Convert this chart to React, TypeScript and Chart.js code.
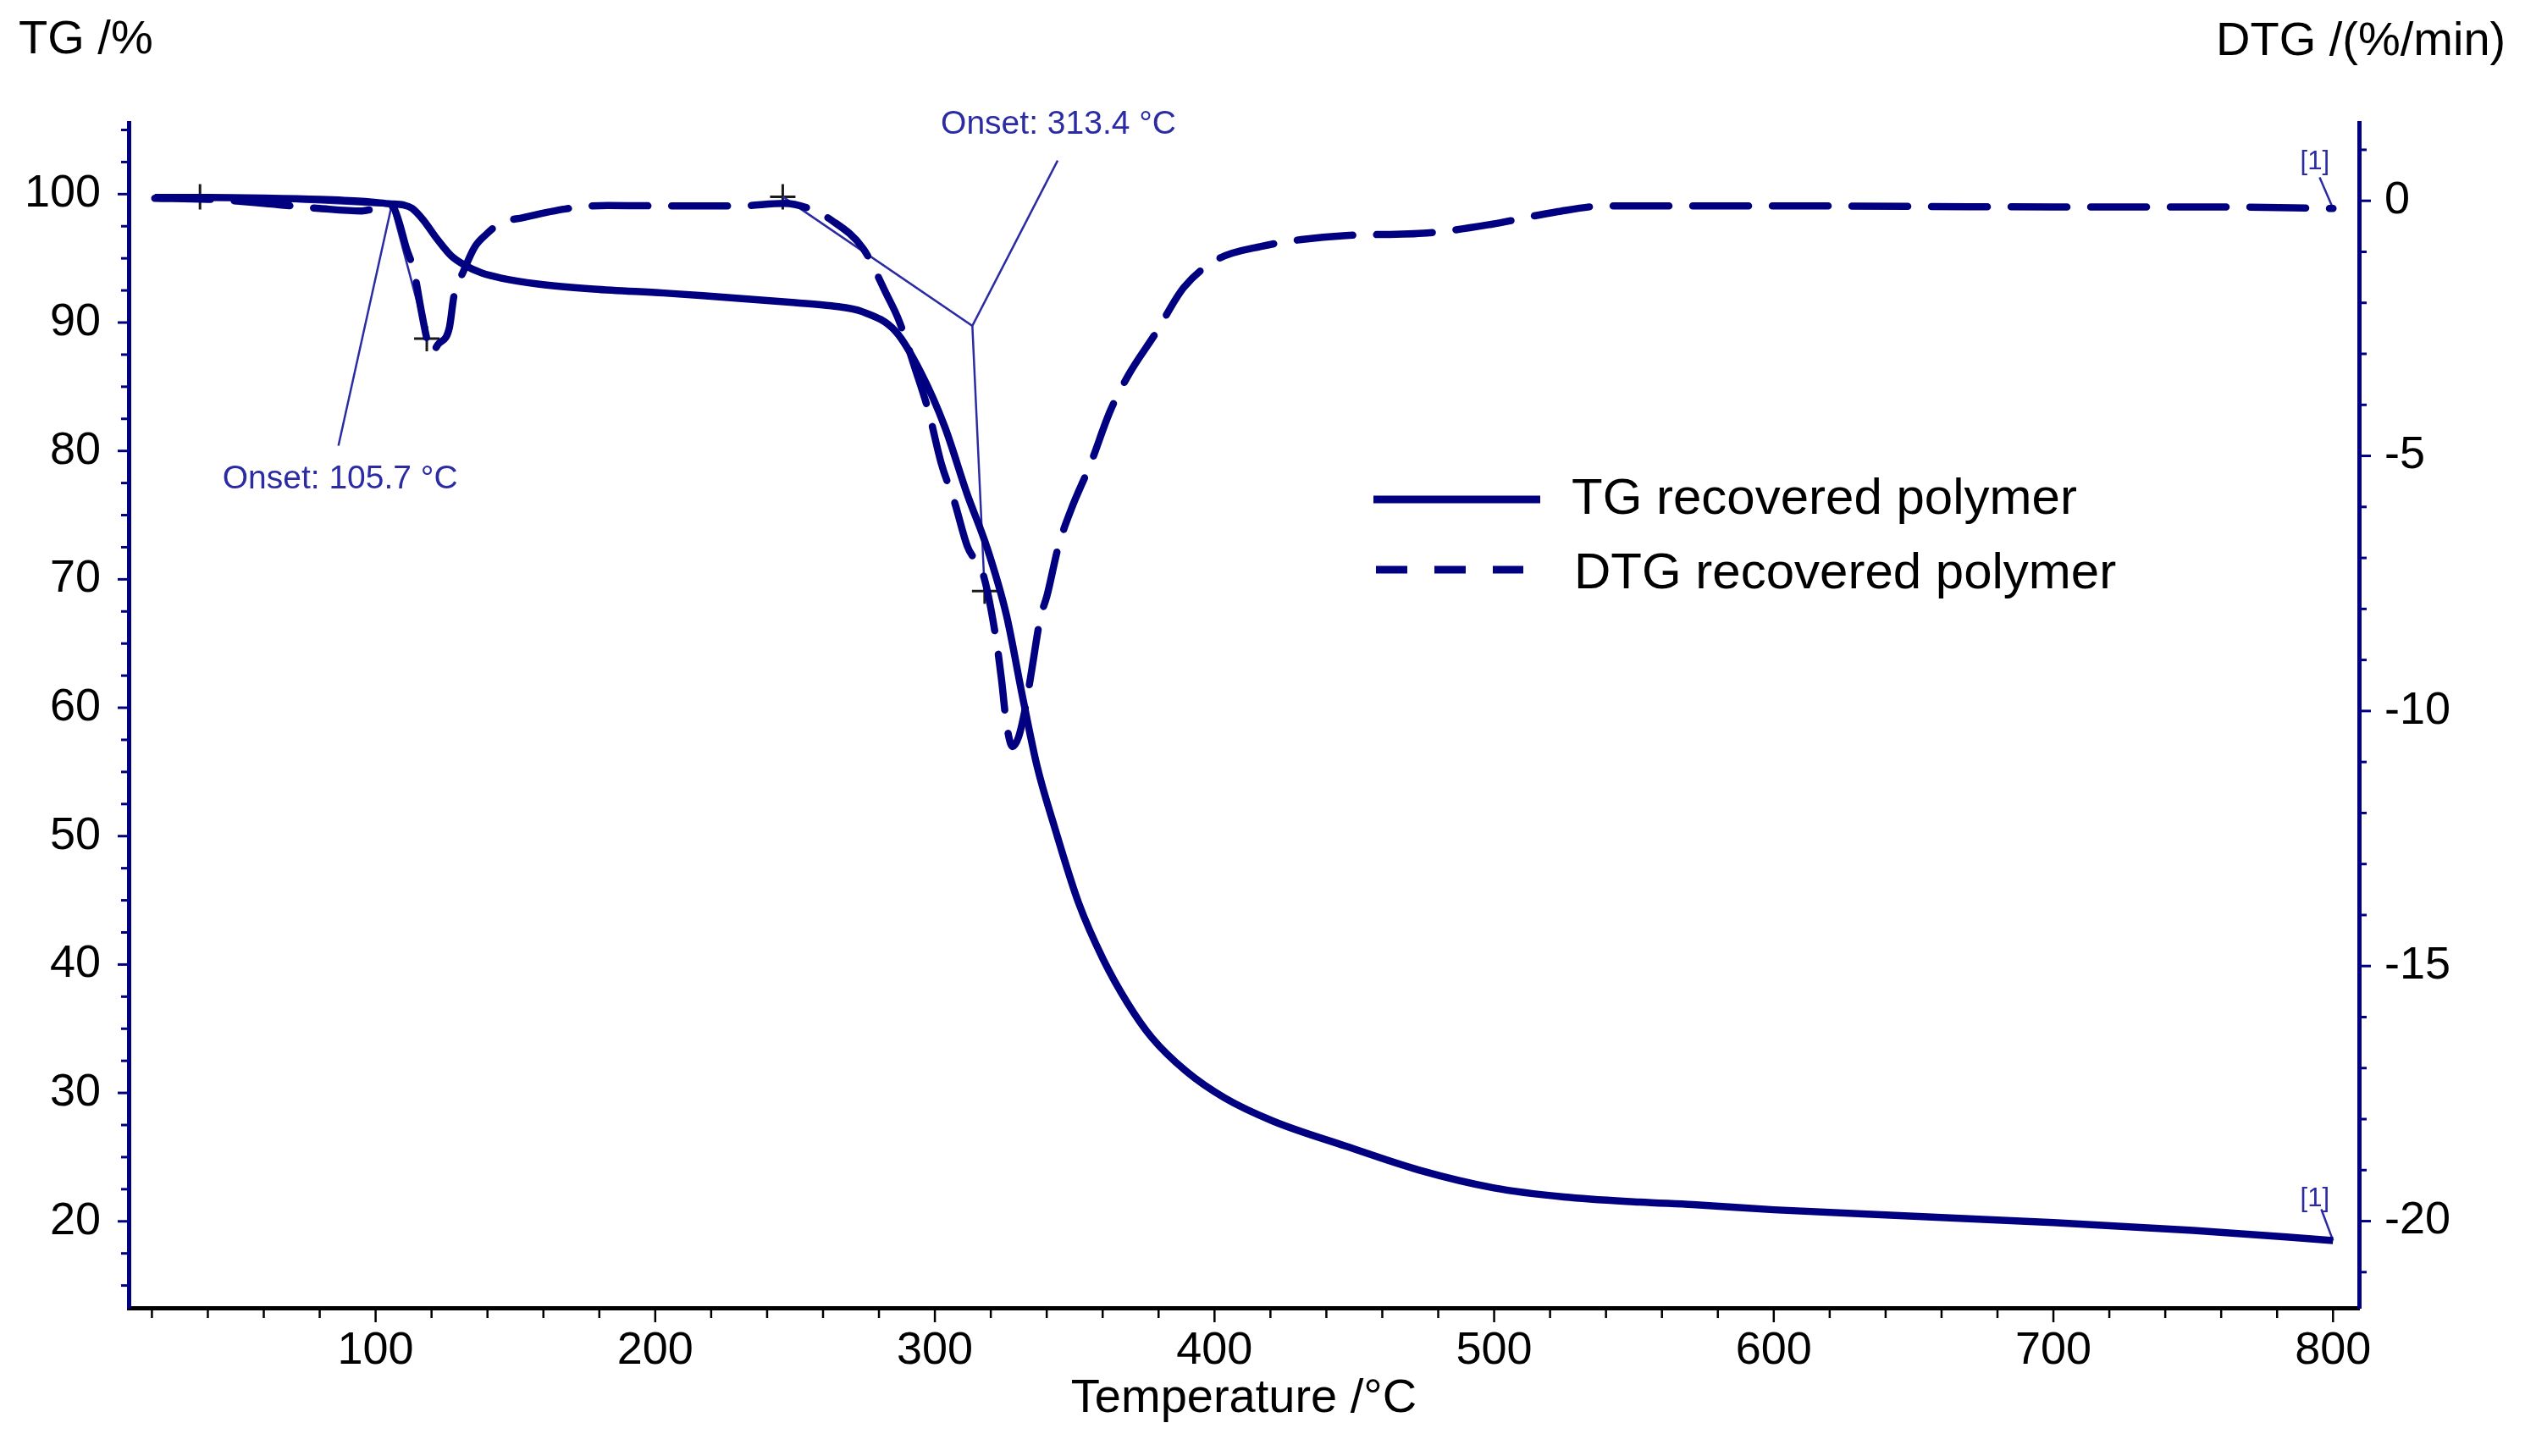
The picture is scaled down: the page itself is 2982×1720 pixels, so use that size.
import { useEffect, useRef } from "react";
import { Chart, registerables } from "chart.js";

Chart.register(...registerables);

// TG curve, mass in % (left axis)
const tgTemp = [21, 40, 60, 80, 95, 105, 110, 113, 117, 122, 127, 132, 138, 145, 158, 178, 203, 217, 235, 250, 263, 274, 286, 295, 303.5, 311.6, 318.6, 325.6, 331.4, 336.6, 342.8, 351.4, 360.2, 368.9, 377.6, 389.8, 403.7, 421, 447, 473, 500, 525, 552, 571, 600, 650, 700, 750, 800];
const tgValues = [99.75, 99.75, 99.7, 99.6, 99.45, 99.25, 99.15, 98.9, 98.0, 96.5, 95.2, 94.45, 93.85, 93.45, 93.0, 92.6, 92.3, 92.1, 91.8, 91.55, 91.3, 90.85, 89.3, 86.1, 81.9, 76.6, 72.5, 67.2, 60.8, 55.4, 50.7, 44.8, 40.4, 37.0, 34.3, 31.7, 29.6, 27.8, 25.85, 24.0, 22.6, 21.9, 21.5, 21.3, 20.9, 20.4, 19.9, 19.3, 18.5];

// DTG curve, %/min (right axis)
const dtgTemp = [21, 40, 60, 80, 95, 103, 106, 108, 111, 113.7, 116.3, 118.3, 119.8, 122.4, 126.4, 128, 131.5, 135.5, 139.5, 144.6, 152.7, 167.8, 183, 203, 230, 246, 255, 263, 274.4, 282.6, 287.1, 293, 297.7, 302.3, 307, 311.6, 317.5, 322, 323.8, 325.6, 327.8, 330, 332.5, 334.8, 337.7, 340.1, 344.2, 348.8, 355.7, 362.7, 369.6, 378.9, 389, 401, 417, 431, 447, 476, 499, 522, 540, 600, 700, 760, 800];
const dtgValues = [0.05, 0.03, -0.05, -0.15, -0.2, -0.12, -0.12, -0.35, -0.93, -1.37, -2.15, -2.7, -2.98, -2.81, -2.48, -1.87, -1.37, -0.9, -0.66, -0.44, -0.33, -0.16, -0.09, -0.1, -0.1, -0.05, -0.15, -0.38, -0.94, -1.82, -2.34, -3.3, -4.12, -5.15, -5.9, -6.77, -7.37, -8.63, -9.37, -10.25, -10.7, -10.5, -9.9, -9.14, -8.18, -7.74, -6.77, -6.04, -5.15, -4.12, -3.38, -2.6, -1.7, -1.15, -0.89, -0.76, -0.68, -0.63, -0.46, -0.22, -0.1, -0.1, -0.12, -0.12, -0.15];

// axis labels
const tempTicks = [100, 200, 300, 400, 500, 600, 700, 800];
const tgTicks = [20, 30, 40, 50, 60, 70, 80, 90, 100];
const dtgTicks = [-20, -15, -10, -5, 0];

// onset evaluation (temperature, DTG value)
const onsetTemp = [105.7, 313.4];
const onsetDtg = [-0.1, -2.45];
const onsetLabels = ["Onset: 105.7 °C", "Onset: 313.4 °C"];
const onsetLabelTemp = [87.3, 344.2];
const onsetLabelDtg = [-5.46, 1.5];
const leaderEndTemp = [86.7, 343.9];
const leaderEndDtg = [-4.8, 0.79];
const crossTemp = [37.2, 118.3, 245.6, 317.8];
const crossDtg = [0.08, -2.7, 0.08, -7.65];

// "[1]" end markers
const endLabelTemp = [793.5, 793.5];
const endLabelValue = [0.76, 21.73]; // DTG axis, TG axis
const endLeaderFrom = [[795.2, 0.46], [795.8, 20.94]];

const NAVY = "#000080";
const NOTE = "#2b2ba3";
const FONT = "'Liberation Sans', Arial, Helvetica, sans-serif";

const pairs = (xs: number[], ys: number[]) => xs.map((x, i) => ({ x, y: ys[i] }));

const thinLine = (data: { x: number; y: number }[], axis: string) => ({
  type: "line" as const,
  data,
  yAxisID: axis,
  borderColor: NOTE,
  borderWidth: 2.5,
  pointRadius: 0,
  tension: 0,
});

const decor = {
  id: "tgaDecor",
  afterDraw(chart: any) {
    const { ctx, chartArea: a, scales } = chart;
    const sx = scales.x, sy = scales.y, sy2 = scales.y2;
    ctx.save();

    // tick marks
    ctx.lineCap = "butt";
    ctx.strokeStyle = "#000";
    ctx.lineWidth = 2.5;
    for (let v = 20; v <= 800; v += 20) {
      const px = sx.getPixelForValue(v);
      const len = v % 100 === 0 ? 17 : 12;
      ctx.beginPath();
      ctx.moveTo(px, a.bottom);
      ctx.lineTo(px, a.bottom + len);
      ctx.stroke();
    }
    ctx.strokeStyle = NAVY;
    ctx.lineWidth = 3;
    for (let v = 15; v <= 105; v += 2.5) {
      const py = sy.getPixelForValue(v);
      const len = v % 10 === 0 ? 13 : 9;
      ctx.beginPath();
      ctx.moveTo(a.left - len, py);
      ctx.lineTo(a.left, py);
      ctx.stroke();
    }
    for (let v = -21; v <= 1; v += 1) {
      const py = sy2.getPixelForValue(v);
      const len = v % 5 === 0 ? 14 : 9;
      ctx.beginPath();
      ctx.moveTo(a.right, py);
      ctx.lineTo(a.right + len, py);
      ctx.stroke();
    }

    // axis titles
    ctx.fillStyle = "#000";
    ctx.textBaseline = "middle";
    ctx.textAlign = "left";
    ctx.font = `56px ${FONT}`;
    ctx.fillText("TG /%", 22, 48);
    ctx.fillText("DTG /(%/min)", 2617, 50);
    ctx.textAlign = "center";
    ctx.fillText("Temperature /°C", (a.left + a.right) / 2, 1653);

    // legend
    ctx.strokeStyle = NAVY;
    ctx.lineWidth = 9;
    ctx.beginPath();
    ctx.moveTo(1622, 590);
    ctx.lineTo(1819, 590);
    ctx.stroke();
    ctx.setLineDash([37, 32]);
    ctx.beginPath();
    ctx.moveTo(1625, 673);
    ctx.lineTo(1799, 673);
    ctx.stroke();
    ctx.setLineDash([]);
    ctx.fillStyle = "#000";
    ctx.textAlign = "left";
    ctx.font = `60px ${FONT}`;
    ctx.fillText("TG recovered polymer", 1856, 590);
    ctx.fillText("DTG recovered polymer", 1859, 678);

    // onset labels and end markers
    ctx.fillStyle = NOTE;
    ctx.textAlign = "center";
    ctx.font = `39px ${FONT}`;
    onsetLabels.forEach((t, i) => {
      ctx.fillText(t, sx.getPixelForValue(onsetLabelTemp[i]), sy2.getPixelForValue(onsetLabelDtg[i]));
    });
    ctx.font = `31px ${FONT}`;
    ctx.fillText("[1]", sx.getPixelForValue(endLabelTemp[0]), sy2.getPixelForValue(endLabelValue[0]));
    ctx.fillText("[1]", sx.getPixelForValue(endLabelTemp[1]), sy.getPixelForValue(endLabelValue[1]));
    ctx.restore();
  },
};

const TgaChart = () => {
  const chartRef = useRef<HTMLCanvasElement>(null);
  const chartInstance = useRef<Chart | null>(null);

  useEffect(() => {
    document.body.style.margin = "0";
    document.body.style.overflow = "hidden";
    if (!chartRef.current) return;
    if (chartInstance.current) chartInstance.current.destroy();

    const ctx = chartRef.current.getContext("2d");
    if (!ctx) return;

    const n = dtgValues.length;
    const datasets: any[] = [
      {
        type: "line",
        label: "TG recovered polymer",
        data: pairs(tgTemp, tgValues),
        yAxisID: "y",
        borderColor: NAVY,
        borderWidth: 8.5,
        pointRadius: 0,
        cubicInterpolationMode: "monotone",
      },
      {
        type: "line",
        label: "DTG recovered polymer",
        data: pairs(dtgTemp, dtgValues),
        yAxisID: "y2",
        borderColor: NAVY,
        borderWidth: 8.5,
        borderDash: [66, 28],
        borderCapStyle: "round",
        pointRadius: 0,
        cubicInterpolationMode: "monotone",
      },
      // onset construction lines
      thinLine(pairs([crossTemp[0], onsetTemp[0], crossTemp[1]], [crossDtg[0], onsetDtg[0], crossDtg[1]]), "y2"),
      thinLine(pairs([onsetTemp[0], leaderEndTemp[0]], [onsetDtg[0], leaderEndDtg[0]]), "y2"),
      thinLine(pairs([crossTemp[2], onsetTemp[1], crossTemp[3]], [crossDtg[2], onsetDtg[1], crossDtg[3]]), "y2"),
      thinLine(pairs([onsetTemp[1], leaderEndTemp[1]], [onsetDtg[1], leaderEndDtg[1]]), "y2"),
      // "[1]" leaders to curve ends
      thinLine(pairs([endLeaderFrom[0][0], dtgTemp[n - 1]], [endLeaderFrom[0][1], dtgValues[n - 1]]), "y2"),
      thinLine(
        pairs([endLeaderFrom[1][0], tgTemp[tgTemp.length - 1]], [endLeaderFrom[1][1], tgValues[tgValues.length - 1]]),
        "y"
      ),
      {
        type: "scatter",
        data: pairs(crossTemp, crossDtg),
        yAxisID: "y2",
        pointStyle: "cross",
        pointRadius: 15,
        borderColor: "#1a1a1a",
        borderWidth: 3,
      },
    ];

    chartInstance.current = new Chart(ctx, {
      type: "line",
      data: { datasets },
      plugins: [decor],
      options: {
        animation: false,
        responsive: true,
        maintainAspectRatio: false,
        events: [],
        layout: { padding: { top: 145, left: 0, right: 0, bottom: 0 } },
        plugins: {
          legend: { display: false },
          tooltip: { enabled: false },
        },
        scales: {
          x: {
            type: "linear",
            position: "bottom",
            min: 11.7,
            max: 809.3,
            afterBuildTicks: (s: any) => {
              s.ticks = tempTicks.map((v) => ({ value: v }));
            },
            afterFit: (s: any) => {
              s.height = 175;
            },
            grid: { display: false, drawTicks: true, tickLength: 17 },
            border: { display: true, color: "#000", width: 5 },
            ticks: {
              color: "#000",
              font: { family: FONT, size: 54 },
              padding: 2,
              maxRotation: 0,
              autoSkip: false,
              callback: (v: any) => String(v),
            },
          },
          y: {
            type: "linear",
            position: "left",
            min: 13.26,
            max: 105.56,
            afterBuildTicks: (s: any) => {
              s.ticks = tgTicks.map((v) => ({ value: v }));
            },
            afterFit: (s: any) => {
              s.width = 152;
            },
            grid: { display: false, drawTicks: true, tickLength: 13 },
            border: { display: true, color: NAVY, width: 5 },
            ticks: {
              color: "#000",
              font: { family: FONT, size: 54 },
              padding: 20,
              autoSkip: false,
              callback: (v: any) => String(v),
            },
          },
          y2: {
            type: "linear",
            position: "right",
            min: -21.7,
            max: 1.53,
            afterBuildTicks: (s: any) => {
              s.ticks = dtgTicks.map((v) => ({ value: v }));
            },
            afterFit: (s: any) => {
              s.width = 196;
            },
            grid: { display: false, drawTicks: true, tickLength: 14 },
            border: { display: true, color: NAVY, width: 5 },
            ticks: {
              color: "#000",
              font: { family: FONT, size: 54 },
              padding: 16,
              autoSkip: false,
              callback: (v: any) => String(v),
            },
          },
        },
      } as any,
    });

    return () => {
      if (chartInstance.current) {
        chartInstance.current.destroy();
        chartInstance.current = null;
      }
    };
  }, []);

  return (
    <div style={{ position: "absolute", left: 0, top: 0, width: "2982px", height: "1720px", background: "#fff" }}>
      <canvas ref={chartRef} />
    </div>
  );
};

export default function App() {
  return <TgaChart />;
}
